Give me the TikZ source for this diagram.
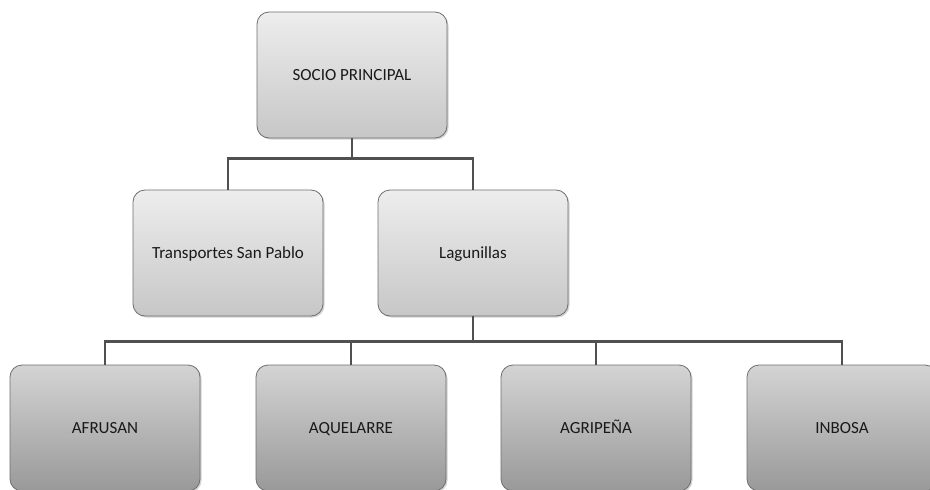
\documentclass[tikz,border=0pt]{standalone}
\usepackage{fontspec}
\setmainfont{Carlito}
\usepackage{tikz}
\usetikzlibrary{positioning, shadows}
\usepackage{xcolor}

\definecolor{linkgray}{HTML}{505050}
\definecolor{framegray}{HTML}{6E6E6E}

\begin{document}
\begin{tikzpicture}[
    x=1pt, y=-1pt,
    box/.style={rectangle, rounded corners=12pt, draw=framegray, line width=0.8pt,
        minimum width=190pt, minimum height=126pt, text=black!90,
        text height=11pt, text depth=0pt,
        font=\fontsize{17}{19}\selectfont,
        drop shadow={opacity=0.35, shadow xshift=1.5pt, shadow yshift=-1.5pt}},
    toptier/.style={box, top color=black!7, bottom color=black!22},
    lowtier/.style={box, top color=black!17, bottom color=black!40},
    link/.style={draw=linkgray, line width=2.5pt}
]
    \useasboundingbox (0,0) rectangle (930,490);

    % Head of the group
    \node[toptier] (socio) at (352,75) {SOCIO PRINCIPAL};

    % Second level
    \node[toptier] (trans) at (228,253) {Transportes San Pablo};
    \node[toptier] (lagun) at (473,253) {Lagunillas};

    % Third level, below Lagunillas
    \node[lowtier] (afrusan) at (105,428) {AFRUSAN};
    \node[lowtier] (aquelarre) at (351,428) {AQUELARRE};
    \node[lowtier] (agripena) at (596,428) {AGRIPEÑA};
    \node[lowtier] (inbosa) at (842,428) {INBOSA};

    % Connectors
    \foreach \child in {trans, lagun}
        \draw[link] (socio.south) -- ++(0,20) -| (\child.north);
    \foreach \child in {afrusan, aquelarre, agripena, inbosa}
        \draw[link] (lagun.south) -- ++(0,25) -| (\child.north);
\end{tikzpicture}
\end{document}
